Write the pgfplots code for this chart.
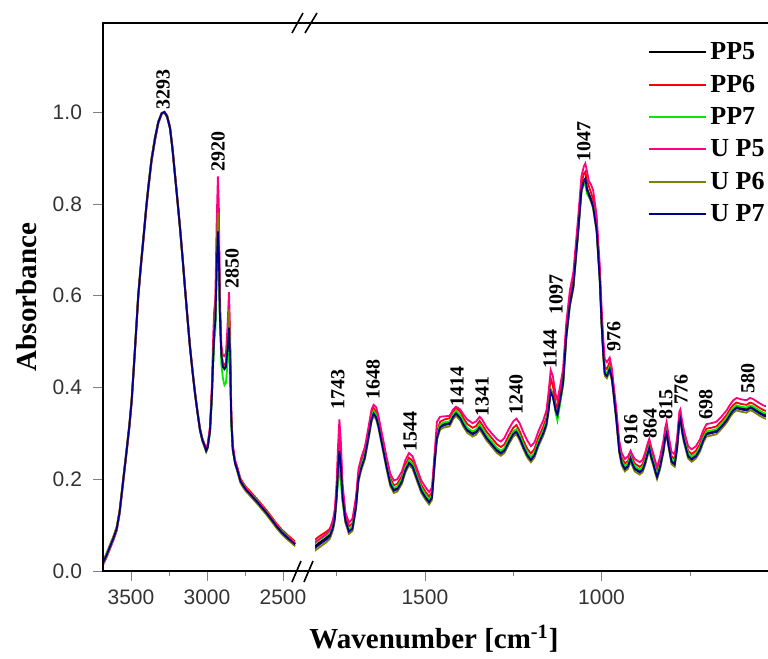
\documentclass[border=0pt]{standalone}
\usepackage{fontspec}
\setmainfont{Liberation Serif}
\newfontfamily\arialfont{Liberation Sans}
\usepackage{pgfplots}
\usepackage{pgfplotstable}
\pgfplotsset{compat=1.18}

\definecolor{cPPfive}{RGB}{0,0,0}
\definecolor{cPPsix}{RGB}{255,0,0}
\definecolor{cPPseven}{RGB}{0,235,0}
\definecolor{cUPfive}{RGB}{255,0,128}
\definecolor{cUPsix}{RGB}{128,128,0}
\definecolor{cUPseven}{RGB}{0,0,140}

% high wavenumber part (left of the break)
\pgfplotstableread{
wn   p5    p6    p7    u5    u6    u7
3684 0.018 0.022 0.020 0.013 0.015 0.018
3660 0.035 0.039 0.037 0.030 0.032 0.035
3638 0.053 0.057 0.055 0.048 0.050 0.053
3615 0.072 0.076 0.074 0.067 0.069 0.072
3594 0.092 0.096 0.094 0.087 0.089 0.092
3575 0.128 0.132 0.130 0.123 0.125 0.128
3561 0.168 0.172 0.170 0.163 0.165 0.168
3545 0.215 0.219 0.217 0.210 0.212 0.215
3528 0.264 0.268 0.266 0.259 0.261 0.264
3510 0.318 0.322 0.320 0.313 0.315 0.318
3495 0.373 0.377 0.375 0.368 0.370 0.373
3474 0.481 0.485 0.483 0.476 0.478 0.481
3452 0.600 0.604 0.602 0.595 0.597 0.600
3435 0.665 0.669 0.667 0.660 0.662 0.665
3419 0.721 0.725 0.723 0.716 0.718 0.721
3400 0.790 0.794 0.792 0.785 0.787 0.790
3386 0.835 0.839 0.837 0.830 0.832 0.835
3365 0.895 0.899 0.897 0.890 0.892 0.895
3342 0.942 0.946 0.944 0.937 0.939 0.942
3320 0.978 0.980 0.979 0.975 0.976 0.978
3298 0.997 0.998 0.997 0.995 0.996 0.997
3280 1.000 1.000 1.000 1.000 0.999 1.000
3262 0.990 0.993 0.991 0.990 0.988 0.990
3243 0.965 0.969 0.967 0.966 0.962 0.965
3227 0.920 0.924 0.922 0.921 0.917 0.920
3211 0.865 0.869 0.867 0.866 0.862 0.865
3195 0.810 0.814 0.812 0.811 0.807 0.810
3178 0.750 0.754 0.752 0.751 0.747 0.750
3160 0.680 0.684 0.682 0.681 0.677 0.680
3145 0.618 0.622 0.620 0.619 0.615 0.618
3128 0.550 0.554 0.552 0.551 0.547 0.550
3112 0.489 0.493 0.491 0.490 0.486 0.489
3095 0.435 0.439 0.437 0.436 0.432 0.435
3079 0.388 0.392 0.390 0.389 0.385 0.388
3062 0.345 0.349 0.347 0.346 0.342 0.345
3046 0.308 0.312 0.310 0.309 0.305 0.308
3030 0.285 0.289 0.287 0.286 0.282 0.285
3015 0.272 0.276 0.274 0.273 0.269 0.272
3005 0.262 0.268 0.264 0.266 0.259 0.262
2995 0.270 0.276 0.272 0.275 0.267 0.270
2980 0.305 0.312 0.302 0.315 0.303 0.305
2968 0.380 0.390 0.372 0.400 0.378 0.380
2958 0.470 0.485 0.455 0.520 0.475 0.470
2952 0.520 0.535 0.500 0.570 0.525 0.520
2945 0.545 0.555 0.520 0.590 0.550 0.540
2936 0.665 0.700 0.640 0.760 0.690 0.660
2928 0.750 0.790 0.720 0.860 0.780 0.740
2922 0.710 0.745 0.680 0.800 0.730 0.700
2915 0.565 0.580 0.545 0.600 0.570 0.560
2905 0.470 0.480 0.450 0.490 0.475 0.470
2895 0.445 0.452 0.420 0.470 0.448 0.445
2885 0.440 0.448 0.405 0.468 0.444 0.440
2875 0.445 0.455 0.410 0.475 0.450 0.445
2865 0.480 0.495 0.450 0.530 0.490 0.480
2855 0.525 0.550 0.500 0.608 0.570 0.530
2848 0.468 0.485 0.445 0.530 0.495 0.470
2840 0.330 0.338 0.320 0.350 0.335 0.330
2830 0.265 0.270 0.262 0.275 0.265 0.265
2815 0.236 0.240 0.236 0.242 0.233 0.235
2800 0.220 0.226 0.223 0.224 0.216 0.220
2780 0.196 0.202 0.199 0.198 0.192 0.196
2760 0.185 0.191 0.188 0.187 0.181 0.185
2740 0.176 0.182 0.179 0.178 0.172 0.176
2717 0.168 0.174 0.171 0.170 0.164 0.168
2690 0.158 0.164 0.161 0.160 0.154 0.158
2663 0.148 0.154 0.151 0.150 0.144 0.148
2635 0.137 0.143 0.140 0.139 0.133 0.137
2607 0.126 0.132 0.129 0.128 0.122 0.126
2575 0.112 0.118 0.115 0.114 0.108 0.112
2541 0.097 0.103 0.100 0.099 0.093 0.097
2510 0.085 0.091 0.088 0.087 0.081 0.085
2476 0.074 0.080 0.077 0.076 0.070 0.074
2440 0.064 0.070 0.067 0.066 0.060 0.064
2420 0.058 0.064 0.061 0.060 0.054 0.058
}\highwn

% fingerprint part (right of the break)
\pgfplotstableread{
wn   p5    p6    p7    u5    u6    u7
1826 0.049 0.063 0.055 0.057 0.039 0.045
1815 0.052 0.066 0.058 0.060 0.042 0.048
1798 0.062 0.076 0.068 0.070 0.052 0.058
1780 0.072 0.085 0.077 0.080 0.062 0.068
1769 0.080 0.092 0.084 0.090 0.070 0.076
1760 0.099 0.110 0.101 0.112 0.089 0.095
1755 0.118 0.128 0.118 0.135 0.109 0.115
1750 0.160 0.172 0.155 0.190 0.155 0.160
1746 0.215 0.240 0.195 0.270 0.212 0.220
1742 0.255 0.300 0.220 0.330 0.250 0.262
1738 0.225 0.260 0.195 0.285 0.222 0.230
1733 0.160 0.175 0.150 0.190 0.155 0.160
1725 0.112 0.120 0.108 0.128 0.105 0.110
1715 0.089 0.097 0.090 0.105 0.081 0.086
1705 0.095 0.104 0.098 0.114 0.087 0.092
1695 0.143 0.152 0.146 0.162 0.135 0.140
1688 0.203 0.212 0.206 0.222 0.195 0.200
1680 0.228 0.237 0.231 0.247 0.220 0.225
1670 0.251 0.260 0.254 0.270 0.243 0.248
1660 0.293 0.302 0.296 0.312 0.285 0.290
1651 0.333 0.342 0.336 0.352 0.325 0.330
1645 0.346 0.355 0.349 0.362 0.338 0.343
1638 0.338 0.347 0.341 0.357 0.330 0.335
1632 0.321 0.330 0.324 0.340 0.313 0.318
1618 0.267 0.276 0.270 0.286 0.259 0.264
1608 0.228 0.237 0.231 0.247 0.220 0.225
1598 0.193 0.202 0.196 0.212 0.185 0.190
1588 0.178 0.187 0.181 0.197 0.170 0.175
1578 0.181 0.190 0.184 0.200 0.173 0.178
1565 0.198 0.207 0.201 0.217 0.190 0.195
1555 0.223 0.232 0.226 0.242 0.215 0.220
1545 0.238 0.247 0.241 0.257 0.230 0.235
1535 0.231 0.240 0.234 0.250 0.223 0.228
1522 0.203 0.212 0.206 0.222 0.195 0.200
1510 0.178 0.187 0.181 0.197 0.170 0.175
1498 0.163 0.172 0.166 0.182 0.155 0.160
1488 0.153 0.162 0.156 0.172 0.145 0.150
1480 0.163 0.172 0.166 0.182 0.155 0.160
1472 0.243 0.252 0.246 0.262 0.235 0.240
1466 0.293 0.302 0.296 0.325 0.285 0.290
1457 0.316 0.325 0.319 0.336 0.308 0.313
1445 0.321 0.330 0.324 0.337 0.313 0.318
1430 0.323 0.333 0.326 0.338 0.315 0.320
1420 0.339 0.348 0.342 0.352 0.331 0.336
1412 0.346 0.355 0.349 0.358 0.338 0.343
1400 0.336 0.347 0.339 0.352 0.328 0.333
1390 0.321 0.332 0.324 0.340 0.313 0.318
1380 0.309 0.320 0.312 0.330 0.301 0.306
1365 0.301 0.312 0.304 0.322 0.293 0.298
1355 0.305 0.316 0.308 0.326 0.297 0.302
1345 0.316 0.327 0.319 0.336 0.308 0.313
1338 0.308 0.319 0.311 0.330 0.300 0.305
1326 0.293 0.304 0.296 0.314 0.285 0.290
1310 0.278 0.289 0.281 0.299 0.270 0.275
1296 0.265 0.276 0.268 0.287 0.257 0.262
1285 0.259 0.270 0.262 0.282 0.251 0.256
1275 0.265 0.276 0.268 0.290 0.257 0.262
1262 0.285 0.296 0.288 0.310 0.277 0.282
1250 0.301 0.312 0.304 0.326 0.293 0.298
1241 0.306 0.318 0.309 0.332 0.298 0.303
1232 0.293 0.305 0.296 0.322 0.285 0.290
1220 0.271 0.282 0.274 0.300 0.263 0.268
1210 0.255 0.266 0.258 0.284 0.247 0.252
1200 0.245 0.256 0.248 0.272 0.237 0.242
1190 0.255 0.266 0.258 0.280 0.247 0.252
1178 0.281 0.292 0.284 0.306 0.273 0.278
1165 0.303 0.314 0.306 0.328 0.295 0.300
1156 0.323 0.334 0.326 0.350 0.315 0.320
1150 0.355 0.368 0.356 0.390 0.348 0.350
1144 0.395 0.420 0.395 0.438 0.395 0.390
1138 0.385 0.405 0.383 0.425 0.383 0.380
1130 0.352 0.365 0.345 0.385 0.350 0.350
1125 0.342 0.355 0.328 0.372 0.340 0.340
1118 0.372 0.385 0.360 0.400 0.368 0.370
1109 0.412 0.422 0.405 0.440 0.405 0.409
1100 0.513 0.522 0.508 0.540 0.505 0.510
1090 0.583 0.592 0.578 0.610 0.575 0.580
1080 0.623 0.632 0.618 0.650 0.615 0.620
1072 0.693 0.702 0.688 0.720 0.685 0.690
1066 0.746 0.755 0.741 0.773 0.738 0.743
1057 0.833 0.845 0.828 0.860 0.825 0.830
1050 0.852 0.866 0.843 0.882 0.848 0.850
1046 0.855 0.870 0.842 0.888 0.852 0.855
1041 0.833 0.850 0.822 0.870 0.830 0.830
1036 0.823 0.838 0.815 0.850 0.818 0.820
1030 0.811 0.825 0.806 0.842 0.805 0.808
1024 0.797 0.810 0.796 0.830 0.790 0.794
1014 0.746 0.758 0.748 0.775 0.738 0.743
1005 0.637 0.648 0.640 0.665 0.629 0.634
1000 0.543 0.555 0.546 0.575 0.535 0.540
995  0.473 0.485 0.476 0.505 0.465 0.470
991  0.433 0.445 0.436 0.462 0.425 0.430
985  0.428 0.440 0.431 0.455 0.420 0.425
977  0.443 0.455 0.446 0.465 0.435 0.440
971  0.423 0.434 0.426 0.442 0.415 0.420
967  0.397 0.406 0.400 0.414 0.389 0.394
958  0.332 0.341 0.335 0.351 0.324 0.329
950  0.265 0.274 0.268 0.284 0.257 0.262
943  0.238 0.247 0.241 0.257 0.230 0.235
934  0.225 0.234 0.228 0.244 0.217 0.222
925  0.231 0.240 0.234 0.250 0.223 0.228
918  0.248 0.257 0.251 0.262 0.240 0.245
912  0.235 0.244 0.238 0.252 0.227 0.232
906  0.225 0.234 0.228 0.244 0.217 0.222
892  0.218 0.227 0.221 0.237 0.210 0.215
884  0.223 0.232 0.226 0.242 0.215 0.220
877  0.238 0.247 0.241 0.257 0.230 0.235
870  0.258 0.267 0.261 0.277 0.250 0.255
865  0.271 0.280 0.274 0.288 0.263 0.268
860  0.253 0.262 0.256 0.272 0.245 0.250
854  0.238 0.247 0.241 0.257 0.230 0.235
847  0.218 0.227 0.221 0.237 0.210 0.215
843  0.208 0.217 0.211 0.227 0.200 0.205
835  0.228 0.237 0.231 0.247 0.220 0.225
825  0.265 0.274 0.268 0.284 0.257 0.262
820  0.293 0.302 0.296 0.312 0.285 0.290
816  0.303 0.312 0.306 0.325 0.295 0.300
810  0.275 0.284 0.278 0.294 0.267 0.272
802  0.241 0.250 0.244 0.260 0.233 0.238
793  0.235 0.244 0.238 0.254 0.227 0.232
786  0.273 0.282 0.276 0.292 0.265 0.270
780  0.328 0.337 0.331 0.347 0.320 0.325
777  0.335 0.344 0.338 0.352 0.327 0.332
772  0.308 0.317 0.311 0.327 0.300 0.305
767  0.288 0.297 0.291 0.307 0.280 0.285
755  0.253 0.262 0.256 0.272 0.245 0.250
745  0.246 0.255 0.249 0.265 0.238 0.243
733  0.253 0.262 0.256 0.272 0.245 0.250
722  0.267 0.276 0.270 0.286 0.259 0.264
712  0.288 0.297 0.291 0.307 0.280 0.285
703  0.301 0.310 0.304 0.320 0.293 0.298
690  0.303 0.312 0.306 0.322 0.295 0.300
675  0.306 0.315 0.309 0.325 0.298 0.303
660  0.318 0.327 0.321 0.337 0.310 0.315
646  0.331 0.340 0.334 0.350 0.323 0.328
635  0.345 0.354 0.348 0.364 0.337 0.342
627  0.353 0.362 0.356 0.372 0.345 0.350
618  0.358 0.367 0.361 0.377 0.350 0.355
605  0.355 0.364 0.358 0.374 0.347 0.352
590  0.353 0.362 0.356 0.372 0.345 0.350
580  0.358 0.367 0.361 0.377 0.350 0.355
572  0.356 0.365 0.359 0.375 0.348 0.353
562  0.351 0.360 0.354 0.370 0.343 0.348
552  0.346 0.355 0.349 0.365 0.338 0.343
540  0.341 0.350 0.344 0.360 0.333 0.338
530  0.339 0.348 0.342 0.358 0.331 0.336
}\fingerwn

\pgfplotsset{
  ftir/.style={
    scale only axis, height=274pt,
    ymin=0, ymax=1.194,
    x dir=reverse,
    axis line style={line width=1pt},
    tick align=outside,
    xtick pos=left,
    major tick length=5pt, minor tick length=2.5pt,
    tick label style={font=\arialfont\fontsize{10.5}{12}\selectfont, text=black!80},
    /pgf/number format/assume math mode=true,
    /pgf/number format/set thousands separator={},
    xticklabel style={yshift=-1pt},
    every axis plot/.append style={line width=0.9pt, mark=none},
  },
}
\tikzset{pk/.style={font=\bfseries\fontsize{10}{11}\selectfont, rotate=90, anchor=west, inner sep=0pt}}

\begin{document}
\begin{tikzpicture}
\useasboundingbox (-51.5pt,-44pt) rectangle (332.5pt,285.5pt);

\begin{axis}[ftir,
  at={(0pt,0pt)}, anchor=south west, width=100pt,
  xmin=2368, xmax=3684,
  xtick={3500,3000,2500}, minor xtick={3250,2750},
  ytick={0,0.2,0.4,0.6,0.8,1.0}, ytick pos=both,
  yticklabel style={/pgf/number format/fixed, /pgf/number format/fixed zerofill, /pgf/number format/precision=1, xshift=-2pt},
  every axis y label/.style={at={(axis description cs:0,0.5)}, xshift=-38pt, rotate=90, anchor=center},
  ylabel={\bfseries\fontsize{14.5}{16}\selectfont Absorbance},
]
  \addplot[cPPfive]  table[x=wn, y=p5] {\highwn};
  \addplot[cPPsix]   table[x=wn, y=p6] {\highwn};
  \addplot[cPPseven] table[x=wn, y=p7] {\highwn};
  \addplot[cUPfive]  table[x=wn, y=u5] {\highwn};
  \addplot[cUPsix]   table[x=wn, y=u6] {\highwn};
  \addplot[cUPseven] table[x=wn, y=u7] {\highwn};
  \node[pk] at (axis cs:3289,1.004) {3293};
  \node[pk] at (axis cs:2927,0.869) {2920};
  \node[pk] at (axis cs:2835,0.614) {2850};
\end{axis}

\begin{axis}[ftir,
  at={(100pt,0pt)}, anchor=south west, width=232.5pt,
  xmin=529, xmax=1845,
  xtick={1500,1000}, minor xtick={1750,1250,750},
  ytick=\empty,
  legend cell align=left,
  legend style={at={(0.742,0.972)}, anchor=north west, draw=none, fill=none,
    inner sep=0pt, row sep=2.2pt,
    font=\bfseries\fontsize{13}{14}\selectfont,
    nodes={inner sep=1.5pt, text height=9pt, text depth=2pt}},
  legend image code/.code={\draw[#1, line width=1pt] (0pt,0.25pt) -- (28.5pt,0.25pt);},
]
  \addplot[cPPfive]  table[x=wn, y=p5] {\fingerwn};
  \addplot[cPPsix]   table[x=wn, y=p6] {\fingerwn};
  \addplot[cPPseven] table[x=wn, y=p7] {\fingerwn};
  \addplot[cUPfive]  table[x=wn, y=u5] {\fingerwn};
  \addplot[cUPsix]   table[x=wn, y=u6] {\fingerwn};
  \addplot[cUPseven] table[x=wn, y=u7] {\fingerwn};
  \legend{PP5,PP6,PP7,U P5,U P6,U P7}
  \node[pk] at (axis cs:1746,0.351) {1743};
  \node[pk] at (axis cs:1647,0.373) {1648};
  \node[pk] at (axis cs:1542,0.259) {1544};
  \node[pk] at (axis cs:1409,0.357) {1414};
  \node[pk] at (axis cs:1338,0.336) {1341};
  \node[pk] at (axis cs:1242,0.340) {1240};
  \node[pk] at (axis cs:1146,0.440) {1144};
  \node[pk] at (axis cs:1129,0.558) {1097};
  \node[pk] at (axis cs:1050,0.891) {1047};
  \node[pk] at (axis cs:965,0.477) {976};
  \node[pk] at (axis cs:917,0.275) {916};
  \node[pk] at (axis cs:863,0.288) {864};
  \node[pk] at (axis cs:818,0.329) {815};
  \node[pk] at (axis cs:775,0.362) {776};
  \node[pk] at (axis cs:705,0.329) {698};
  \node[pk] at (axis cs:586,0.386) {580};
\end{axis}

% hide the inner spines at the break and the right spine
\fill[white] (99.2pt,0.6pt) rectangle (105.8pt,273.4pt);
\fill[white] (331.6pt,0.6pt) rectangle (334pt,273.4pt);
% frame: left, bottom and top lines
\draw[line width=1pt] (0pt,274pt) -- (0pt,0pt) -- (332.5pt,0pt);
\draw[line width=1pt] (0pt,274pt) -- (332.5pt,274pt);
% axis break marks
\draw[line width=0.8pt] (94.5pt,-5.5pt) -- (99pt,5pt) (100.5pt,-5.5pt) -- (105pt,5pt);
\draw[line width=0.8pt] (94.5pt,269pt) -- (100pt,279pt) (101pt,269pt) -- (107pt,279pt);

\node[font=\bfseries\fontsize{14.5}{16}\selectfont] at (165.5pt,-34pt) {Wavenumber [cm\textsuperscript{-1}]};
\end{tikzpicture}
\end{document}
